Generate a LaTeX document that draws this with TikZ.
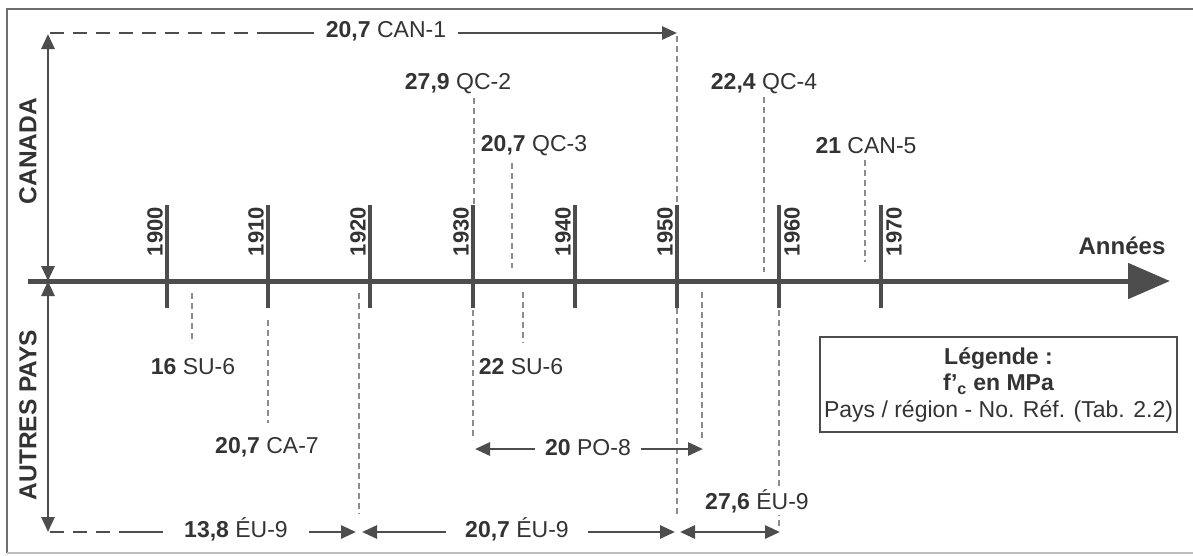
\documentclass[tikz,border=0pt]{standalone}
\usepackage{fontspec}
\setmainfont{Liberation Sans}
\usetikzlibrary{arrows.meta}
\definecolor{ink}{HTML}{333333}
\definecolor{axisc}{HTML}{4D4D4D}
\definecolor{guide}{HTML}{8C8C8C}
\definecolor{framec}{HTML}{6E6E6E}
\begin{document}
\begin{tikzpicture}[x=1pt,y=-1pt,
  lab/.style={text=ink,font=\fontsize{23}{26}\selectfont,inner sep=0pt},
  yearlab/.style={text=ink,font=\fontsize{22}{24}\selectfont\bfseries,rotate=90,inner sep=0pt},
  sidelab/.style={text=ink,font=\fontsize{24.5}{26}\selectfont\bfseries,rotate=90,inner sep=0pt},
  axisline/.style={draw=axisc,line width=5pt},
  tickline/.style={draw=axisc,line width=4pt},
  conn/.style={draw=axisc,line width=2.8pt},
  tipS/.style={-{Triangle[length=15pt,width=13pt]}},
  tipB/.style={{Triangle[length=15pt,width=13pt]}-{Triangle[length=15pt,width=13pt]}},
  tipL/.style={{Triangle[length=15pt,width=13pt]}-},
  guideline/.style={draw=guide,line width=1.1pt,dash pattern=on 6pt off 4pt},
  dashconn/.style={draw=axisc,line width=2.8pt,dash pattern=on 14pt off 9pt}]
\useasboundingbox (0,0) rectangle (1193,555);
\fill[white] (0,0) rectangle (1193,555);
% frame
\draw[draw=framec,line width=2.2pt] (1193,9) -- (7,9) -- (7,553);
\draw[draw=framec!45,line width=1.5pt] (7,553) -- (1193,553);

% guide lines (drawn first, under everything)
\coordinate (g50a) at (677,36);  \coordinate (g50b) at (677,205);
\coordinate (g50c) at (677,308); \coordinate (g50d) at (677,517);
\coordinate (q2a) at (474,98);   \coordinate (q2b) at (474,205);
\coordinate (p8a) at (473,310);  \coordinate (p8b) at (473,440);
\coordinate (q3a) at (512,163);  \coordinate (q3b) at (512,268);
\coordinate (q4a) at (764,97);   \coordinate (q4b) at (764,272);
\coordinate (c5a) at (865,160);  \coordinate (c5b) at (865,262);
\coordinate (s6a) at (192,293);  \coordinate (s6b) at (192,343);
\coordinate (s7a) at (523,292);  \coordinate (s7b) at (523,343);
\coordinate (ca7a) at (268,320); \coordinate (ca7b) at (268,423);
\coordinate (g20a) at (359,293); \coordinate (g20b) at (359,514);
\coordinate (p8c) at (702,292);  \coordinate (p8d) at (702,442);
\coordinate (g60a) at (779,310); \coordinate (g60b) at (779,527);
\foreach \p/\q in {g50a/g50b,g50c/g50d,q2a/q2b,p8a/p8b,q3a/q3b,q4a/q4b,c5a/c5b,s6a/s6b,s7a/s7b,ca7a/ca7b,g20a/g20b,p8c/p8d,g60a/g60b}
  \draw[guideline] (\p) -- (\q);

% main axis
\coordinate (a0) at (28,281);
\coordinate (a1) at (1170,281);
\draw[axisline,-{Triangle[length=42pt,width=35pt]}] (a0) -- (a1);
\node[lab,font=\fontsize{24}{26}\selectfont\bfseries] (annees) at (1122,246) {Années};

% ticks and year labels (left of the tick up to 1950, right of it after)
\foreach \yr/\x in {1900/167,1910/268,1920/370,1930/473,1940/575,1950/677,1960/779,1970/881}{
  \coordinate (t\yr a) at (\x,205);
  \coordinate (t\yr b) at (\x,308);
  \draw[tickline] (t\yr a) -- (t\yr b);
}
\foreach \yr/\x in {1900/167,1910/268,1920/370,1930/473,1940/575,1950/677}
  \node[yearlab,anchor=south east] (y\yr) at (\x-4,207) {\yr};
\foreach \yr/\x in {1960/779,1970/881}
  \node[yearlab,anchor=north east] (y\yr) at (\x+5,207) {\yr};

% left vertical arrows
\coordinate (lm) at (48,281);
\coordinate (lt) at (48,34);
\coordinate (lb) at (48,532);
\draw[conn,tipB] (lm) -- (lt);
\draw[conn,tipB] (lm) -- (lb);
\node[sidelab] (canada) at (28,151) {CANADA};
\node[sidelab] (autres) at (28,415) {AUTRES PAYS};

% labels
\node[lab,inner xsep=12pt] (can1) at (386,31) {\textbf{20,7} CAN-1};
\node[lab] (qc2) at (458,84) {\textbf{27,9} QC-2};
\node[lab] (qc3) at (534,146) {\textbf{20,7} QC-3};
\node[lab] (qc4) at (764,84) {\textbf{22,4} QC-4};
\node[lab] (can5) at (866,146) {\textbf{21} CAN-5};
\node[lab] (su6a) at (193,367) {\textbf{16} SU-6};
\node[lab] (su6b) at (521,367) {\textbf{22} SU-6};
\node[lab] (ca7) at (267,447) {\textbf{20,7} CA-7};
\node[lab,inner xsep=10pt] (po8) at (588,448) {\textbf{20} PO-8};
\node[lab,inner xsep=21pt] (eu9a) at (236,529) {\textbf{13,8} ÉU-9};
\node[lab,inner xsep=19pt] (eu9b) at (517,529) {\textbf{20,7} ÉU-9};
\node[lab,fill=white,inner ysep=2pt] (eu9c) at (757,501) {\textbf{27,6} ÉU-9};

% top CAN-1 connector
\coordinate (c1s) at (50,33);
\coordinate (c1m) at (263,33);
\coordinate (c1e) at (677,33);
\draw[dashconn] (c1s) -- (c1m);
\draw[conn] (c1m) -- (can1.west |- c1m);
\draw[conn,tipS] (can1.east |- c1e) -- (c1e);

% bottom connectors
\coordinate (b0) at (50,532);
\coordinate (bm) at (133,532);
\coordinate (b1) at (356,532);
\coordinate (b2) at (362,532);
\coordinate (b3) at (675,532);
\coordinate (b4) at (680,532);
\coordinate (b5) at (780,532);
\draw[dashconn] (b0) -- (bm);
\draw[conn] (bm) -- (eu9a.west |- bm);
\draw[conn,tipS] (eu9a.east |- b1) -- (b1);
\draw[conn,tipL] (b2) -- (eu9b.west |- b2);
\draw[conn,tipS] (eu9b.east |- b3) -- (b3);
\draw[conn,tipB] (b4) -- (b5);

% PO-8 connector
\coordinate (p0) at (475,449);
\coordinate (p1) at (703,449);
\draw[conn,tipL] (p0) -- (po8.west |- p0);
\draw[conn,tipS] (po8.east |- p1) -- (p1);

% legend
\node[draw=axisc,line width=2.5pt,minimum width=357pt,minimum height=95pt,inner sep=0pt] (legend) at (998.5,384.5) {};
\node[lab,align=center,font=\fontsize{23}{26.5}\selectfont] (legtext) at (legend.center)
  {\textbf{Légende :}\\ \textbf{f'\textsubscript{c} en MPa}\\ Pays / région - No. Réf. (Tab. 2.2)};
\end{tikzpicture}
\end{document}
